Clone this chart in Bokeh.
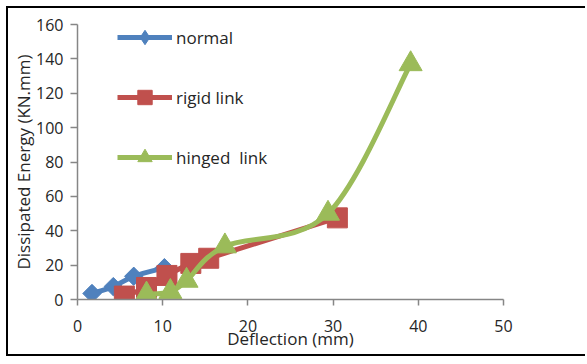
import math
from bokeh.plotting import figure
from bokeh.models import Legend, LegendItem, FixedTicker, Range1d
from bokeh.embed import file_html
from bokeh.resources import INLINE

# Dissipated energy versus deflection for three specimen types
normal_x = [1.7, 4.2, 6.6, 10.2]
normal_y = [3.5, 7.5, 13.5, 18.5]

rigid_x = [5.5, 8.1, 10.5, 13.3, 15.4, 30.5]
rigid_y = [2.0, 7.0, 14.0, 21.0, 24.0, 47.5]

hinged_x = [8.1, 10.9, 12.8, 17.3, 29.4, 39.1]
hinged_y = [3.0, 4.5, 11.0, 31.0, 50.0, 137.0]

x_ticks = [0, 10, 20, 30, 40, 50]
y_ticks = [0, 20, 40, 60, 80, 100, 120, 140, 160]

FONT = "Open Sans"
TEXT = "#262626"
AXIS = "#868686"


def smooth_segments(xs, ys):
    """Bezier segments of a Catmull-Rom style smoothed line through the points."""
    n = len(xs)
    seg = dict(x0=[], y0=[], x1=[], y1=[], cx0=[], cy0=[], cx1=[], cy1=[])
    for i in range(n - 1):
        xp, yp = (xs[i - 1], ys[i - 1]) if i > 0 else (xs[i], ys[i])
        xn, yn = (xs[i + 2], ys[i + 2]) if i + 2 < n else (xs[i + 1], ys[i + 1])
        seg["x0"].append(xs[i]); seg["y0"].append(ys[i])
        seg["x1"].append(xs[i + 1]); seg["y1"].append(ys[i + 1])
        seg["cx0"].append(xs[i] + (xs[i + 1] - xp) / 6.0)
        seg["cy0"].append(ys[i] + (ys[i + 1] - yp) / 6.0)
        seg["cx1"].append(xs[i + 1] - (xn - xs[i]) / 6.0)
        seg["cy1"].append(ys[i + 1] - (yn - ys[i]) / 6.0)
    return seg


# The chart sits inside a black frame open on the right side
p = figure(width=579, height=350, output_backend="svg", toolbar_location=None,
           x_range=Range1d(0, 50), y_range=Range1d(0, 160),
           min_border_left=69, min_border_right=84,
           min_border_top=16, min_border_bottom=59,
           styles={"margin-left": "6px", "margin-top": "6px",
                   "border-left": "2.5px solid black",
                   "border-top": "2.5px solid black",
                   "border-bottom": "2.5px solid black"})

p.outline_line_color = None
p.grid.grid_line_color = None
p.background_fill_color = "white"
p.border_fill_color = "white"

for ax in (p.xaxis[0], p.yaxis[0]):
    ax.axis_line_color = AXIS
    ax.axis_line_width = 1.5
    ax.major_tick_line_color = AXIS
    ax.major_tick_line_width = 1.5
    ax.major_tick_in = 0
    ax.minor_tick_line_color = None
    ax.major_label_text_font = FONT
    ax.major_label_text_font_size = "16px"
    ax.major_label_text_color = TEXT
    ax.axis_label_text_font = FONT
    ax.axis_label_text_font_size = "17px"
    ax.axis_label_text_font_style = "normal"
    ax.axis_label_text_color = TEXT

p.xaxis.ticker = FixedTicker(ticks=x_ticks)
p.yaxis.ticker = FixedTicker(ticks=y_ticks)
p.xaxis.major_tick_out = 6
p.yaxis.major_tick_out = 7
p.xaxis.major_label_standoff = 14
p.yaxis.major_label_standoff = 7

p.xaxis.axis_label = "Deflection (mm)"
p.yaxis.axis_label = "Dissipated Energy (KN.mm)"
p.xaxis.axis_label_standoff = -8
p.yaxis.axis_label_standoff = -2

series = [
    ("normal", normal_x, normal_y, "#4F81BD",
     dict(marker="square", size=13, angle=math.pi / 4), dict(marker="diamond", size=17)),
    ("rigid link", rigid_x, rigid_y, "#C0504D",
     dict(marker="square", size=20), None),
    ("hinged  link", hinged_x, hinged_y, "#9BBB59",
     dict(marker="triangle", size=23), None),
]

items = []
for name, xs, ys, color, mk, key_mk in series:
    curve = p.bezier(source=smooth_segments(xs, ys), x0="x0", y0="y0", x1="x1", y1="y1",
                     cx0="cx0", cy0="cy0", cx1="cx1", cy1="cy1",
                     line_color=color, line_width=5)
    key = None
    if key_mk is not None:
        # upright diamond used as the legend symbol; sits under the point markers
        key = p.scatter(xs, ys, fill_color=color, line_color=color, **key_mk)
    pts = p.scatter(xs, ys, fill_color=color, line_color=color, **mk)
    items.append(LegendItem(label=name, renderers=[curve, key if key is not None else pts]))

legend = Legend(items=items, location=(40, 124), orientation="vertical",
                glyph_width=55, glyph_height=36, label_height=36,
                spacing=24, padding=0, margin=0, label_standoff=4,
                label_text_font=FONT, label_text_font_size="17px",
                label_text_color=TEXT, border_line_color=None,
                background_fill_alpha=0)
p.add_layout(legend)

open("out.html", "w").write(file_html(p, INLINE))
